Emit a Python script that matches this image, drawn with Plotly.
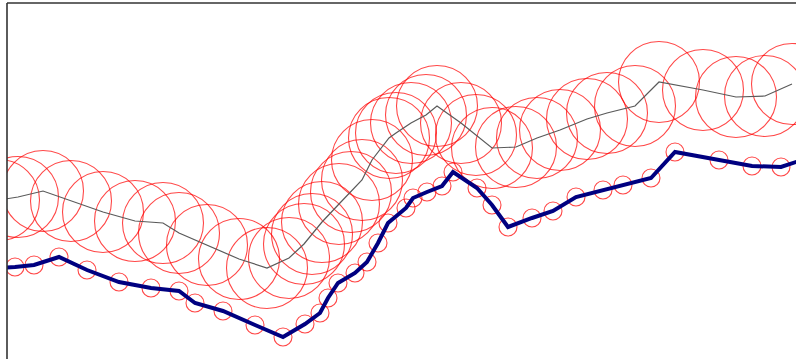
import plotly.graph_objects as go

# Navy series (path points)
navy_x = [-5, 15, 34, 59, 87, 119, 151, 179, 195, 223, 255, 283, 305, 320, 328, 338, 355, 367, 378, 388,
          406, 413, 427, 442, 453, 477, 492, 508, 532, 553, 576, 603, 623, 651, 675, 719, 752, 781, 808]
navy_y = [91, 92, 94, 102, 89, 77, 71, 68, 56, 48, 34, 22, 35, 46, 61, 76, 86, 97, 116, 136,
          151, 161, 167, 173, 187, 171, 154, 132, 141, 148, 162, 169, 174, 181, 207, 199, 193, 192, 201]

# Gray series (path points with large markers)
gray_x = [-1, 18, 43, 71, 103, 135, 163, 179, 207, 239, 267, 289, 304, 312, 322, 339, 351, 362, 372,
          389, 396, 411, 426, 437, 461, 476, 492, 516, 537, 560, 587, 607, 635, 659, 703, 736, 765, 792]
gray_y = [159, 162, 168, 158, 147, 138, 136, 126, 114, 100, 91, 101, 115, 125, 137, 155, 167, 179, 199,
          221, 226, 236, 244, 253, 236, 224, 211, 212, 221, 229, 240, 246, 253, 277, 269, 262, 263, 275]

red = "rgba(255,0,0,0.72)"

fig = go.Figure()
fig.add_trace(go.Scatter(x=gray_x, y=gray_y, mode="markers",
                         marker=dict(symbol="circle-open", size=81, color=red, line=dict(width=1.1, color=red))))
fig.add_trace(go.Scatter(x=gray_x, y=gray_y, mode="lines", line=dict(color="#5a5a5a", width=1.2)))
fig.add_trace(go.Scatter(x=navy_x, y=navy_y, mode="markers",
                         marker=dict(symbol="circle-open", size=18, color=red, line=dict(width=1.1, color=red))))
fig.add_trace(go.Scatter(x=navy_x, y=navy_y, mode="lines", line=dict(color="#000080", width=4)))

fig.update_layout(
    width=796, height=359,
    margin=dict(l=7, r=0, t=3, b=0),
    paper_bgcolor="white", plot_bgcolor="white",
    showlegend=False, hovermode=False,
    xaxis=dict(range=[7, 796], visible=False),
    yaxis=dict(range=[0, 356], visible=False),
    shapes=[
        dict(type="line", xref="paper", yref="paper", x0=0, x1=1, y0=1, y1=1, line=dict(color="#333", width=1.6)),
        dict(type="line", xref="paper", yref="paper", x0=0, x1=0, y0=0, y1=1, line=dict(color="#333", width=1.6)),
    ],
)

fig.write_html("out.html", config={"displayModeBar": False},
               post_script="document.body.style.margin='0';document.body.style.overflow='hidden';")
